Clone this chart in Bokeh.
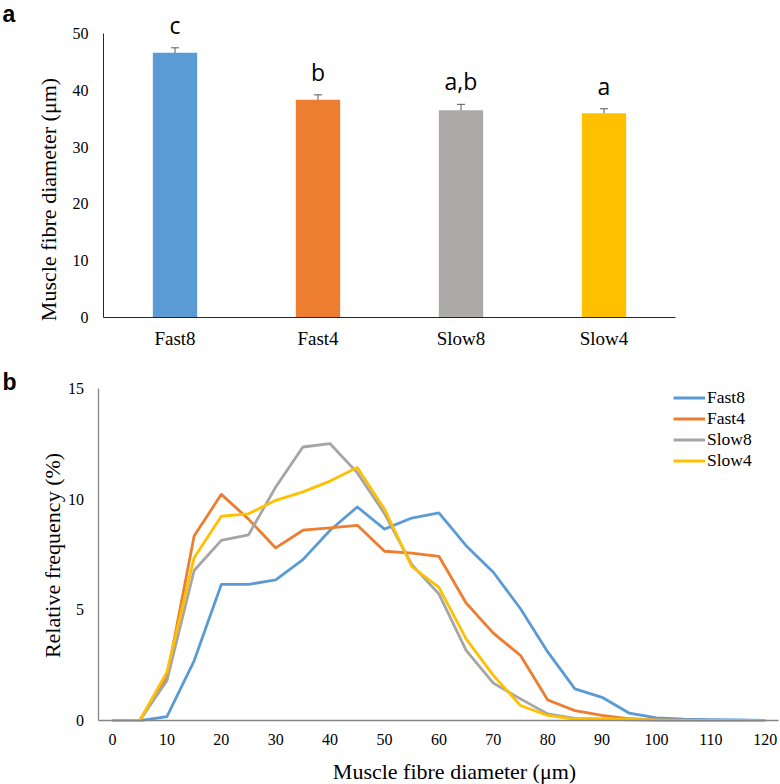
import math
from bokeh.plotting import figure
from bokeh.models import (FactorRange, Range1d, ColumnDataSource, Whisker, TeeHead,
                          LabelSet, Label, FixedTicker, Legend, LegendItem)
from bokeh.layouts import column
from bokeh.embed import file_html
from bokeh.resources import INLINE
from bokeh.core.properties import value

# ---------------- data: panel a ----------------
groups = ["Fast8", "Fast4", "Slow8", "Slow4"]
mean_diameter = [46.6, 38.35, 36.5, 35.95]
sem_diameter = [0.88, 0.85, 1.03, 0.8]
sig_letters = ["c", "b", "a,b", "a"]
bar_colors = ["#5B9BD5", "#ED7D31", "#ADA9A8", "#FFC000"]
yticks_a = [0, 10, 20, 30, 40, 50]

# ---------------- data: panel b ----------------
diam_bins = [0, 5, 10, 15, 20, 25, 30, 35, 40, 45, 50, 55, 60, 65, 70, 75, 80, 85,
             90, 95, 100, 105, 110, 115, 120]
freq_fast8 = [0, 0, 0.18, 2.7, 6.15, 6.15, 6.36, 7.27, 8.6, 9.65, 8.65, 9.15, 9.38,
              7.9, 6.7, 5.05, 3.1, 1.43, 1.05, 0.33, 0.12, 0.06, 0.04, 0.03, 0]
freq_fast4 = [0, 0, 1.95, 8.34, 10.22, 9.1, 7.8, 8.6, 8.71, 8.82, 7.65, 7.56, 7.42,
              5.31, 3.95, 2.94, 0.93, 0.45, 0.23, 0.08, 0.03, 0.02, 0.01, 0.01, 0]
freq_slow8 = [0, 0, 1.8, 6.78, 8.14, 8.39, 10.55, 12.36, 12.51, 11.19, 9.35, 7.05, 5.72,
              3.17, 1.69, 0.98, 0.3, 0.1, 0.06, 0.03, 0.02, 0.01, 0.01, 0, 0]
freq_slow4 = [0, 0, 2.19, 7.36, 9.23, 9.34, 9.95, 10.33, 10.82, 11.43, 9.55, 6.96, 6.02,
              3.69, 2.04, 0.68, 0.23, 0.06, 0.09, 0.05, 0.02, 0.01, 0.01, 0.01, 0]
series_names = ["Fast8", "Fast4", "Slow8", "Slow4"]
line_colors = ["#5B9BD5", "#ED7D31", "#A5A5A5", "#FFC000"]
xticks_b = [0, 10, 20, 30, 40, 50, 60, 70, 80, 90, 100, 110, 120]
yticks_b = [0, 5, 10, 15]

SERIF = "Liberation Serif"
SANS = "Open Sans"
PANEL_FONT = "Liberation Sans"


def style_axis(ax, color, width, size, standoff):
    ax.major_tick_out = 0
    ax.major_tick_in = 0
    ax.minor_tick_out = 0
    ax.minor_tick_in = 0
    ax.axis_line_color = color
    ax.axis_line_width = width
    ax.major_label_text_font = SERIF
    ax.major_label_text_font_size = size
    ax.major_label_text_color = "#000000"
    ax.major_label_standoff = standoff


# ================= panel a =================
# the frame fills the whole canvas; axes sit at fixed locations inside it
p1 = figure(x_range=FactorRange(factors=groups, range_padding=0.36014),
            y_range=Range1d(-5.81, 55.81),
            width=778, height=350, output_backend="svg", toolbar_location=None,
            min_border=0, min_border_left=0, min_border_right=0,
            min_border_top=0, min_border_bottom=0)
p1.frame_align = False
p1.outline_line_color = None
p1.grid.visible = False

src = ColumnDataSource(dict(
    x=groups, top=mean_diameter, color=bar_colors, letter=sig_letters,
    upper=[m + s for m, s in zip(mean_diameter, sem_diameter)],
    lower=[m - s for m, s in zip(mean_diameter, sem_diameter)],
))
p1.vbar(x="x", top="top", width=0.31, fill_color="color", line_color=None, source=src)

p1.add_layout(Whisker(base="x", upper="upper", lower="lower", source=src,
                      line_color="#595959", line_width=1,
                      upper_head=TeeHead(size=8, line_color="#595959", line_width=1),
                      lower_head=TeeHead(size=8, line_color="#595959", line_width=1)))

p1.add_layout(LabelSet(x="x", y="upper", text="letter", source=src, text_align="center",
                       text_baseline="alphabetic", y_offset=14,
                       text_font=value(SANS), text_font_size="23px", text_color="#000000"))

p1.yaxis.ticker = FixedTicker(ticks=yticks_a)
p1.yaxis.fixed_location = 0
p1.yaxis.bounds = (0, 50)
p1.xaxis.fixed_location = 0
p1.xaxis.bounds = (0, 4)
style_axis(p1.yaxis[0], "#262626", 1, "16px", 15)
style_axis(p1.xaxis[0], "#262626", 1, "19px", 11)

p1.add_layout(Label(x=48, y=151, x_units="screen", y_units="screen", angle=math.pi / 2,
                    text="Muscle fibre diameter (μm)", text_align="center",
                    text_baseline="middle", text_font=SERIF, text_font_size="22px",
                    text_color="#000000"))
p1.add_layout(Label(x=2, y=337, x_units="screen", y_units="screen", text="a",
                    text_font=PANEL_FONT, text_font_style="bold", text_font_size="23px",
                    text_baseline="middle", text_align="left", text_color="#000000"))

# ================= panel b =================
p2 = figure(x_range=Range1d(-20.59, 122.79), y_range=Range1d(-2.89, 16.72),
            width=780, height=434, output_backend="svg", toolbar_location=None,
            min_border=0, min_border_left=0, min_border_right=0,
            min_border_top=0, min_border_bottom=0)
p2.frame_align = False
p2.outline_line_color = None
p2.grid.visible = False

series = [freq_fast8, freq_fast4, freq_slow8, freq_slow4]
items = []
for name, ys, col in zip(series_names, series, line_colors):
    r = p2.line(x=diam_bins, y=ys, line_color=col, line_width=2.8, line_join="round")
    items.append(LegendItem(label=name, renderers=[r]))

p2.add_layout(Legend(items=items, location=(673, 313), glyph_width=32, glyph_height=19,
                     label_height=19, label_standoff=2, spacing=0, padding=0, margin=0,
                     border_line_color=None, background_fill_alpha=0,
                     label_text_font=SERIF, label_text_font_size="17.5px",
                     label_text_color="#000000"))

p2.xaxis.ticker = FixedTicker(ticks=xticks_b)
p2.yaxis.ticker = FixedTicker(ticks=yticks_b)
p2.xaxis.fixed_location = 0
p2.xaxis.bounds = (-2.5, 122.5)
p2.yaxis.fixed_location = -2.5
p2.yaxis.bounds = (0, 15)
style_axis(p2.xaxis[0], "#868686", 1.3, "16px", 13)
style_axis(p2.yaxis[0], "#868686", 1.3, "16px", 15)

p2.add_layout(Label(x=454, y=13, x_units="screen", y_units="screen",
                    text="Muscle fibre diameter (μm)", text_align="center",
                    text_baseline="middle", text_font=SERIF, text_font_size="22px",
                    text_color="#000000"))
p2.add_layout(Label(x=52, y=229, x_units="screen", y_units="screen", angle=math.pi / 2,
                    text="Relative frequency (%)", text_align="center",
                    text_baseline="middle", text_font=SERIF, text_font_size="22px",
                    text_color="#000000"))
p2.add_layout(Label(x=2, y=403, x_units="screen", y_units="screen", text="b",
                    text_font=PANEL_FONT, text_font_style="bold", text_font_size="23px",
                    text_baseline="middle", text_align="left", text_color="#000000"))

layout = column(p1, p2, spacing=0)
open("out.html", "w").write(file_html(layout, INLINE))
